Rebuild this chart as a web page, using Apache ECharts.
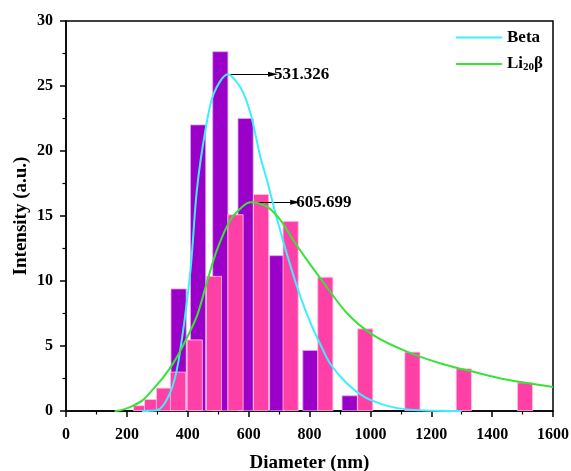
<!DOCTYPE html>
<html>
<head>
<meta charset="utf-8">
<script src="https://cdn.jsdelivr.net/npm/echarts@6/dist/echarts.min.js"></script>
<style>
  html, body { margin: 0; padding: 0; background: #ffffff; }
  #chart { width: 571px; height: 471px; }
</style>
</head>
<body>
<div id="chart"></div>
<script>
// Size distribution histograms (bin centre in nm, intensity)
var betaBinX = [370, 434, 507, 590, 694, 803, 932];
var betaBinY = [9.42, 22.04, 27.67, 22.53, 11.98, 4.69, 1.2];

var liBinX = [247, 283, 322, 368, 423, 486, 557, 641, 738, 852, 983, 1138, 1307, 1508];
var liBinY = [0.44, 0.92, 1.79, 3.02, 5.5, 10.39, 15.13, 16.69, 14.62, 10.32, 6.35, 4.56, 3.28, 2.2];

// Fitted distribution curves
var betaFitX = [250, 298, 342, 370, 408, 430, 458, 485, 531.326, 573, 606, 639, 661, 694, 737, 770, 803, 836, 869, 924, 979, 1034, 1089, 1143, 1250, 1300];
var betaFitY = [0, 0.05, 1.4, 3.9, 10.6, 17.0, 21.6, 24.4, 25.9, 24.9, 22.9, 19.5, 17.7, 14.7, 11.2, 8.8, 6.8, 5.1, 3.6, 2.1, 1.1, 0.55, 0.22, 0.08, 0, 0];

var liFitX = [160, 178, 210, 250, 287, 320, 353, 386, 430, 463, 496, 540, 584, 605.699, 661, 704, 748, 792, 836, 924, 1012, 1122, 1231, 1341, 1451, 1600];
var liFitY = [0, 0.05, 0.3, 0.8, 1.7, 2.6, 3.7, 5.1, 7.3, 9.9, 12.4, 14.7, 15.8, 16.05, 15.7, 14.7, 13.1, 11.6, 10.2, 7.5, 5.8, 4.55, 3.66, 3.0, 2.4, 1.85];

// Peak annotations: peak position, height, arrow end
var betaPeak = { x: 531.326, y: 25.9, arrowTo: 680, label: '531.326' };
var liPeak = { x: 605.699, y: 16.05, arrowTo: 753, label: '605.699' };

// Axis ticks
var xTicks = [0, 200, 400, 600, 800, 1000, 1200, 1400, 1600];
var yTicks = [0, 5, 10, 15, 20, 25, 30];

var seriesNames = ['Beta', 'Li20β'];

function pairs(xs, ys) {
  return xs.map(function (x, i) { return [x, ys[i]]; });
}

var FONT = '"Liberation Serif", "Times New Roman", serif';
var chart = echarts.init(document.getElementById('chart'), null, { renderer: 'canvas' });

function peakMark(p) {
  return {
    silent: true,
    symbol: ['none', 'triangle'],
    symbolSize: [5, 10],
    lineStyle: { color: '#000', width: 1, type: 'solid' },
    label: {
      show: true, position: 'end', distance: 1,
      formatter: p.label,
      color: '#000', fontFamily: FONT, fontWeight: 'bold', fontSize: 17
    },
    emphasis: { disabled: true },
    data: [[{ coord: [p.x, p.y] }, { coord: [p.arrowTo, p.y] }]]
  };
}

var option = {
  backgroundColor: '#ffffff',
  animation: false,
  grid: {
    left: 66, right: 18, top: 21, bottom: 60,
    outerBoundsMode: 'none',
    containLabel: false,
    show: true, borderColor: '#000', borderWidth: 1.5, backgroundColor: 'transparent'
  },
  legend: {
    data: seriesNames,
    orient: 'vertical',
    left: 451, top: 24,
    icon: 'rect',
    itemWidth: 46, itemHeight: 2,
    itemGap: 9,
    selectedMode: false,
    formatter: function (name) {
      return name === 'Li20β' ? '{n|Li}{s|20}{n|β}' : '{n|' + name + '}';
    },
    textStyle: {
      color: '#000',
      rich: {
        n: { fontFamily: FONT, fontWeight: 'bold', fontSize: 17, lineHeight: 18 },
        s: { fontFamily: FONT, fontWeight: 'bold', fontSize: 11, lineHeight: 18, padding: [7, 0, 0, 0] }
      }
    }
  },
  xAxis: {
    type: 'value',
    min: xTicks[0], max: xTicks[xTicks.length - 1], interval: 200,
    name: 'Diameter (nm)',
    nameLocation: 'middle', nameGap: 43,
    nameMoveOverlap: false,
    nameTextStyle: { fontFamily: FONT, fontWeight: 'bold', fontSize: 19, color: '#000' },
    axisLine: { show: true, onZero: false, lineStyle: { color: '#000', width: 1.5 } },
    axisTick: { show: true, inside: false, length: 6, lineStyle: { color: '#000', width: 1.5 } },
    minorTick: { show: true, splitNumber: 2, length: 3.5, lineStyle: { color: '#000', width: 1.2 } },
    splitLine: { show: false },
    axisLabel: {
      color: '#000', fontFamily: FONT, fontWeight: 'bold', fontSize: 16, margin: 16,
      formatter: function (v) { return String(v); }
    }
  },
  yAxis: {
    type: 'value',
    min: yTicks[0], max: yTicks[yTicks.length - 1], interval: 5,
    name: 'Intensity (a.u.)',
    nameLocation: 'middle', nameGap: 35,
    nameMoveOverlap: false,
    nameTextStyle: { fontFamily: FONT, fontWeight: 'bold', fontSize: 19, color: '#000' },
    axisLine: { show: true, lineStyle: { color: '#000', width: 1.5 } },
    axisTick: { show: true, inside: false, length: 6, lineStyle: { color: '#000', width: 1.5 } },
    minorTick: { show: true, splitNumber: 2, length: 3.5, lineStyle: { color: '#000', width: 1.2 } },
    splitLine: { show: false },
    axisLabel: {
      color: '#000', fontFamily: FONT, fontWeight: 'bold', fontSize: 16, margin: 13,
      formatter: function (v) { return String(v); }
    }
  },
  series: [
    {
      name: 'Beta bins',
      type: 'bar',
      barWidth: 16,
      barGap: '-100%',
      z: 2,
      itemStyle: { color: '#9B00C9', borderColor: '#D9A6EE', borderWidth: 0.8 },
      data: pairs(betaBinX, betaBinY)
    },
    {
      name: 'Li20β bins',
      type: 'bar',
      barWidth: 16,
      barGap: '-100%',
      z: 3,
      itemStyle: { color: '#FF40A6', borderColor: '#FFC6E2', borderWidth: 0.8 },
      data: pairs(liBinX, liBinY)
    },
    {
      name: 'Beta',
      type: 'line',
      smooth: 0.3,
      showSymbol: false,
      z: 5,
      color: '#3CEFFF',
      lineStyle: { color: '#3CEFFF', width: 2 },
      data: pairs(betaFitX, betaFitY),
      markLine: peakMark(betaPeak)
    },
    {
      name: 'Li20β',
      type: 'line',
      smooth: 0.3,
      showSymbol: false,
      z: 5,
      color: '#38E238',
      lineStyle: { color: '#38E238', width: 2 },
      data: pairs(liFitX, liFitY),
      markLine: peakMark(liPeak)
    }
  ]
};

chart.setOption(option);
</script>
</body>
</html>
